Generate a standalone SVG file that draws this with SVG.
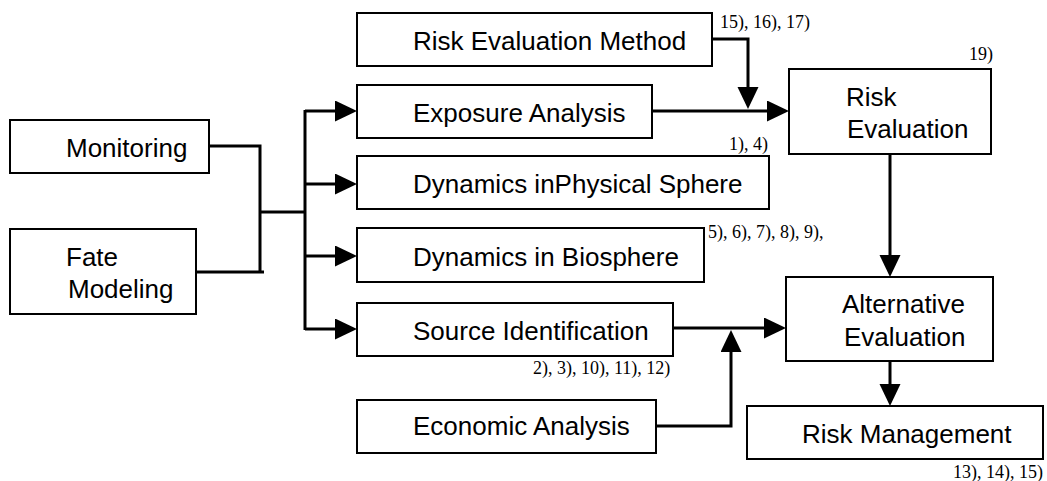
<svg xmlns="http://www.w3.org/2000/svg" width="1047" height="481" viewBox="0 0 1047 481">
<style>
.box{fill:#fff;stroke:#000;stroke-width:2}
.lbl{font-family:"Liberation Sans",Arial,sans-serif;font-size:26px;fill:#000}
.ref{font-family:"Liberation Serif","Times New Roman",serif;font-size:18px;fill:#000}
.con{fill:none;stroke:#000;stroke-width:3}
</style>
<defs>
<marker id="ah" markerUnits="userSpaceOnUse" markerWidth="23" markerHeight="22" refX="0" refY="10.5" orient="auto">
<path d="M0,0 L22,10.5 L0,21 Z" fill="#000"/>
</marker>
</defs>
<rect width="1047" height="481" fill="#fff"/>
<g id="connectors">
<path class="con" d="M209,146 H260 V273"/>
<path class="con" d="M196,272 H264"/>
<path class="con" d="M260,212 H305"/>
<path class="con" d="M305,110 V330"/>
<path class="con" d="M305,111 H335" marker-end="url(#ah)"/>
<path class="con" d="M305,184 H335" marker-end="url(#ah)"/>
<path class="con" d="M305,256 H335" marker-end="url(#ah)"/>
<path class="con" d="M305,329 H335" marker-end="url(#ah)"/>
<path class="con" d="M652,111 H767" marker-end="url(#ah)"/>
<path class="con" d="M712,39 H748 V87" marker-end="url(#ah)"/>
<path class="con" d="M890,154 V255" marker-end="url(#ah)"/>
<path class="con" d="M673,328 H764" marker-end="url(#ah)"/>
<path class="con" d="M656,426 H731 V352" marker-end="url(#ah)"/>
<path class="con" d="M890,361 V384" marker-end="url(#ah)"/>
</g>
<g id="monitoring">
<rect class="box" x="10" y="120" width="199" height="53"/>
<text class="lbl" x="66" y="157">Monitoring</text>
</g>
<g id="fate-modeling">
<rect class="box" x="10" y="229" width="186" height="85"/>
<text class="lbl" x="66" y="266">Fate</text>
<text class="lbl" x="68" y="298">Modeling</text>
</g>
<g id="risk-evaluation-method">
<rect class="box" x="357" y="13" width="355" height="53"/>
<text class="lbl" x="413" y="50">Risk Evaluation Method</text>
<text class="ref" x="720" y="28">15), 16), 17)</text>
</g>
<g id="exposure-analysis">
<rect class="box" x="357" y="85" width="295" height="53"/>
<text class="lbl" x="413" y="122">Exposure Analysis</text>
</g>
<g id="dynamics-physical">
<rect class="box" x="357" y="156" width="412" height="53"/>
<text class="lbl" x="413" y="193">Dynamics inPhysical Sphere</text>
<text class="ref" x="729" y="150">1), 4)</text>
</g>
<g id="dynamics-biosphere">
<rect class="box" x="357" y="228" width="347" height="54"/>
<text class="lbl" x="413" y="266">Dynamics in Biosphere</text>
<text class="ref" x="708" y="238">5), 6), 7), 8), 9),</text>
</g>
<g id="source-identification">
<rect class="box" x="357" y="303" width="316" height="53"/>
<text class="lbl" x="413" y="340">Source Identification</text>
<text class="ref" x="533" y="374">2), 3), 10), 11), 12)</text>
</g>
<g id="economic-analysis">
<rect class="box" x="357" y="400" width="299" height="53"/>
<text class="lbl" x="413" y="435">Economic Analysis</text>
</g>
<g id="risk-evaluation">
<rect class="box" x="789" y="69" width="202" height="85"/>
<text class="lbl" x="846" y="106">Risk</text>
<text class="lbl" x="847" y="138">Evaluation</text>
<text class="ref" x="969" y="60">19)</text>
</g>
<g id="alternative-evaluation">
<rect class="box" x="786" y="277" width="207" height="84"/>
<text class="lbl" x="842" y="313">Alternative</text>
<text class="lbl" x="844" y="346">Evaluation</text>
</g>
<g id="risk-management">
<rect class="box" x="747" y="406" width="296" height="53"/>
<text class="lbl" x="802" y="443">Risk Management</text>
<text class="ref" x="953" y="478">13), 14), 15)</text>
</g>
</svg>
